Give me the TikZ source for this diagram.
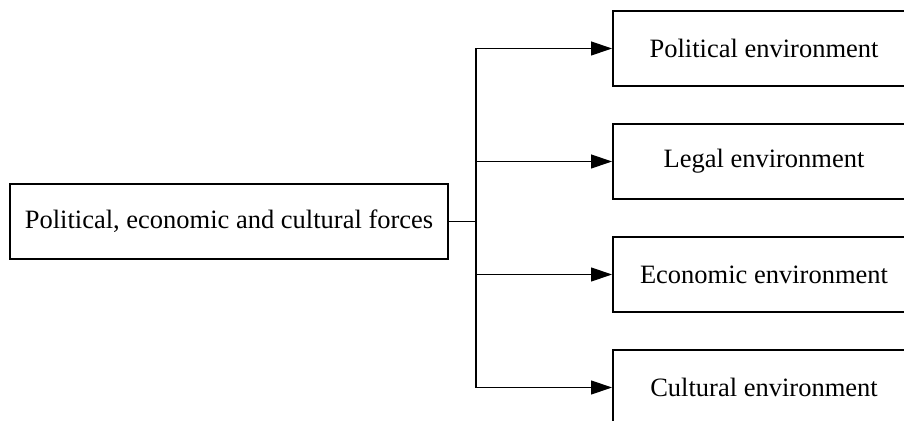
\documentclass[tikz,border=0pt]{standalone}
\usepackage{fontspec}
\setmainfont{Liberation Serif}
\usetikzlibrary{arrows.meta,positioning}

\begin{document}
\begin{tikzpicture}[
		x=0.5pt, y=-0.5pt,
		box/.style={draw, line width=1pt, minimum width=151pt, minimum height=37.5pt,
			inner sep=0pt, font=\fontsize{13.25pt}{16pt}\selectfont},
		trunk/.style={line width=0.7pt},
		link/.style={line width=0.6pt, -{Triangle[length=10.5pt,width=7pt]}},
	]
		\useasboundingbox (0,0) rectangle (904,421);
		
		\node[box, minimum width=219pt] (forces) at (229,221.5) {Political, economic and cultural forces};
		
		\node[box] (political) at (764,48.5) {Political environment};
		\node[box] (legal) at (764,161.5) {Legal environment};
		\node[box] (economic) at (764,274.5) {Economic environment};
		\node[box] (cultural) at (764,387.5) {Cultural environment};
		
		\coordinate (split) at (476,221.5);
		\draw[trunk] (forces.east) -- (split);
		
		\foreach \target in {political,legal,economic,cultural}
			\draw[link] (split) |- (\target.west);
	\end{tikzpicture}
\end{document}
